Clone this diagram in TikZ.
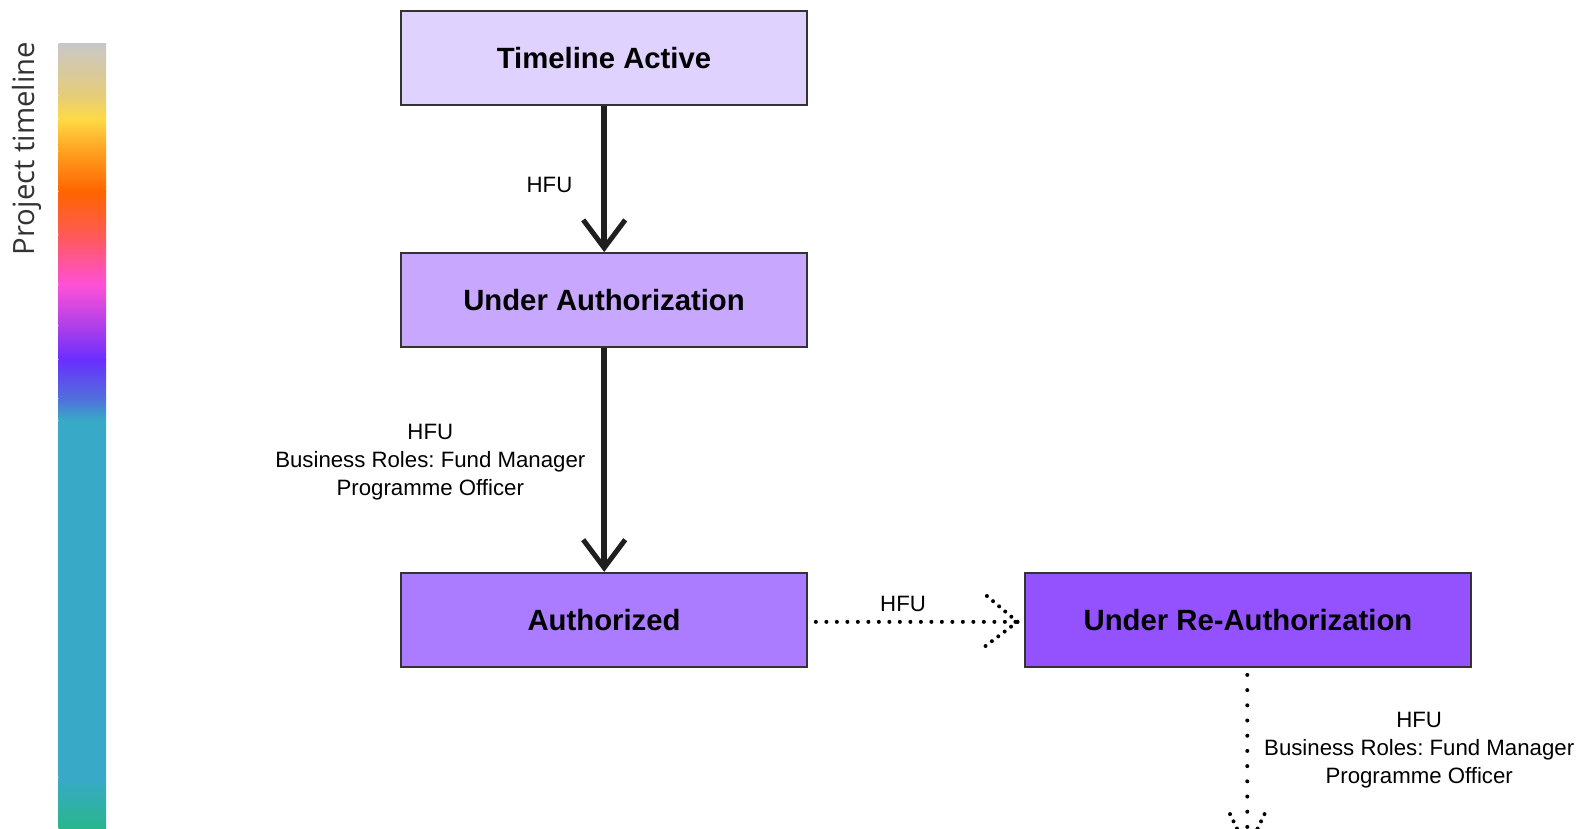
\documentclass[tikz,border=0pt]{standalone}
\usepackage{fontspec}
\setmainfont{Liberation Sans}
\newfontfamily\ptfont{Open Sans}
\usetikzlibrary{arrows.meta}
\frenchspacing
\definecolor{cA}{HTML}{E0D2FF}
\definecolor{cB}{HTML}{C8A8FF}
\definecolor{cC}{HTML}{AB7CFF}
\definecolor{cD}{HTML}{9452FF}
\definecolor{edge}{HTML}{333333}
\tikzset{
  state/.style={draw=edge, line width=2pt, minimum width=402pt, minimum height=93pt, inner sep=0pt,
    font=\fontsize{29}{34}\selectfont\bfseries},
  lbl/.style={font=\fontsize{22}{28}\selectfont\frenchspacing, align=center, text=black},
  solidarr/.style={line width=6pt, draw=black!88, -{Straight Barb[length=28pt,width=42pt,line width=5pt]}},
  dotline/.style={line width=4pt, line cap=round, dash pattern=on 0pt off 10.5pt, draw=black},
  vdotline/.style={line width=4pt, line cap=round, dash pattern=on 0pt off 15.2pt, draw=black},
  adotline/.style={line width=4pt, line cap=round, dash pattern=on 0pt off 8pt, draw=black},
}
\begin{document}
\begin{tikzpicture}[x=1pt,y=-1pt]
\useasboundingbox (0,0) rectangle (1584,828);
\fill[white] (0,0) rectangle (1584,828);
\begin{scope}
\clip (0,0) rectangle (1584,828);
\begin{scope}[scale=1.0101, transform shape]
% colour bar
\foreach \ya/\ca/\yb/\cb in {43/C8C8C8/95/E6CC78, 95/E6CC78/118/FFDA45, 118/FFDA45/150/FFA020, 150/FFA020/190/FF6400, 190/FF6400/232/FF5A55, 232/FF5A55/282/FF50D8, 282/FF50D8/322/B040E8, 322/B040E8/356/6A2EFF, 356/6A2EFF/395/5070DC, 395/5070DC/416/38AAC8, 416/38AAC8/770/38AAC8, 770/38AAC8/830/25B880}{
  \definecolor{ta}{HTML}{\ca}\definecolor{tb}{HTML}{\cb}
  \shade[top color=ta, bottom color=tb] (58,\ya) rectangle (105,\yb);
}
\node[rotate=90, font=\ptfont\fontsize{29}{32}\selectfont, text=black!80, anchor=center] (pt) at (27,147) {Project timeline};
% states
\node[state, fill=cA] (ta) at (598,57.5) {Timeline Active};
\node[state, fill=cB] (ua) at (598,297) {Under Authorization};
\node[state, fill=cC] (au) at (598,613.5) {Authorized};
\node[state, fill=cD, minimum width=441pt] (ra) at (1235.5,613.5) {Under Re-Authorization};
% solid arrows
\draw[solidarr] (ta.south) -- (ua.north);
\node[lbl] (l1) at (544,183) {HFU};
\draw[solidarr] (ua.south) -- (au.north);
\node[lbl] (l2) at (426,457.5) {HFU\\Business Roles: Fund Manager\\Programme Officer};
% dotted horizontal
\coordinate (h0) at (807.5,615.5);
\coordinate (h1) at (1007,615.5);
\draw[dotline] (h0) -- (h1);
\draw[adotline] (h1) -- ++(-33,-28);
\draw[adotline] (h1) -- ++(-33,25);
\node[lbl] (l3) at (894,598) {HFU};
% dotted vertical
\coordinate (v0) at (1234.5,668);
\coordinate (v1) at (1234.5,841.5);
\draw[vdotline] (v0) -- (v1);
\draw[adotline] (v1) -- ++(-19.8,-41.5);
\draw[adotline] (v1) -- ++(19.8,-41.5);
\node[lbl] (l4) at (1405,742.5) {HFU\\Business Roles: Fund Manager\\Programme Officer};
\end{scope}
\end{scope}
\end{tikzpicture}
\end{document}
